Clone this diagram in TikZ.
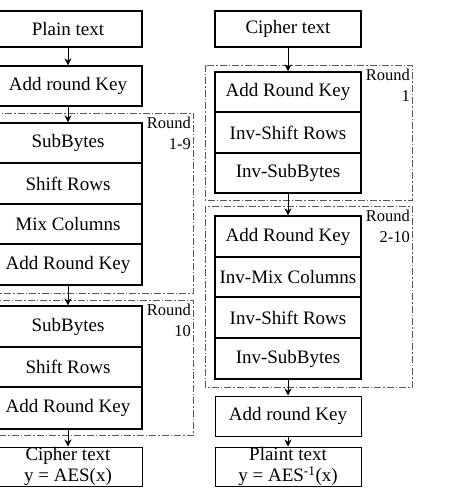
\documentclass[tikz,border=0pt]{standalone}
\usepackage{fontspec}
\setmainfont{Liberation Serif}
\usetikzlibrary{arrows.meta}
\begin{document}
\begin{tikzpicture}[x=1pt,y=-1pt,
  blk/.style={draw=black, line width=1.3pt, inner sep=0pt, align=center,
    font=\fontsize{19}{21.5}\selectfont},
  lb/.style={blk, minimum width=148pt},
  rb/.style={blk, minimum width=146pt},
  rnd/.style={draw=black!65, line width=0.9pt, dash pattern=on 7pt off 2pt on 1.5pt off 2pt},
  rlab/.style={inner sep=0pt, align=right, anchor=north east, font=\fontsize{16.5}{21}\selectfont},
  arr/.style={-{Stealth[length=7pt,width=7pt]}, line width=0.9pt, black}]
\clip (0,0) rectangle (474,494);
\fill[white] (0,0) rectangle (474,494);
% left column
\node[lb, minimum height=36pt] (plain) at (68,29) {Plain text};
\node[lb, minimum height=40pt] (ark1) at (68,86) {Add round Key};
\draw[rnd] (-16,113) rectangle (193,293);
\node[rlab] (r19) at (191,117) {Round\\1-9};
\node[lb, minimum height=40pt] (sb1) at (68,143) {SubBytes};
\node[lb, minimum height=41pt] (sr1) at (68,183.5) {Shift Rows};
\node[lb, minimum height=40pt] (mc1) at (68,224) {Mix Columns};
\node[lb, minimum height=41pt] (ark2) at (68,264.5) {Add Round Key};
\draw[rnd] (-16,300) rectangle (193,435);
\node[rlab] (r10) at (191,304) {Round\\10};
\node[lb, minimum height=41pt] (sb2) at (68,326.5) {SubBytes};
\node[lb, minimum height=40pt] (sr2) at (68,367) {Shift Rows};
\node[lb, minimum height=42pt] (ark3) at (68,408) {Add Round Key};
\node[lb, minimum height=39pt, line width=1pt] (cipher) at (68,466.5) {Cipher text\\y = AES(x)};
% right column
\node[rb, minimum height=36pt] (ct) at (288,29) {Cipher text};
\draw[rnd] (205,65) rectangle (412,200);
\node[rlab] (r1) at (410,69) {Round\\1};
\node[rb, minimum height=40pt] (arkr1) at (288,92) {Add Round Key};
\node[rb, minimum height=41pt] (isr1) at (288,132.5) {Inv-Shift Rows};
\node[rb, minimum height=40pt] (isb1) at (288,173) {Inv-SubBytes};
\draw[rnd] (205,206) rectangle (412,387);
\node[rlab] (r210) at (410,210) {Round\\2-10};
\node[rb, minimum height=41pt] (arkr2) at (288,236.5) {Add Round Key};
\node[rb, minimum height=40pt] (imc) at (288,277) {Inv-Mix Columns};
\node[rb, minimum height=41pt] (isr2) at (288,317.5) {Inv-Shift Rows};
\node[rb, minimum height=41pt] (isb2) at (288,358.5) {Inv-SubBytes};
\node[rb, minimum height=40pt, line width=1pt] (arkr3) at (288,416) {Add round Key};
\node[rb, minimum height=39pt, line width=1pt] (pt) at (288,466.5) {Plaint text\\y = AES\textsuperscript{-1}(x)};
% arrows
\draw[arr] (plain) -- (ark1);
\draw[arr] (ark1) -- (sb1);
\draw[arr] (ark2) -- (sb2);
\draw[arr] (ark3) -- (cipher);
\draw[arr] (ct) -- (arkr1);
\draw[arr] (isb1) -- (arkr2);
\draw[arr] (isb2) -- (arkr3);
\draw[arr] (arkr3) -- (pt);
\end{tikzpicture}
\end{document}
